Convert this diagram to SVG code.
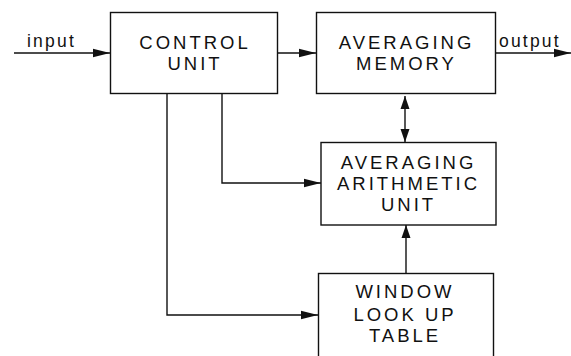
<svg xmlns="http://www.w3.org/2000/svg" width="571" height="356" viewBox="0 0 571 356">
<style>
.box{fill:#fff;stroke:#111;stroke-width:1.4}
.lbl{font-family:"Liberation Sans",Arial,sans-serif;font-size:18.5px;letter-spacing:3px;fill:#111;text-anchor:middle}
.io{font-family:"Liberation Sans",Arial,sans-serif;font-size:17.5px;letter-spacing:2.2px;fill:#111}
.ln{fill:none;stroke:#111;stroke-width:1.4}
</style>
<defs>
<marker id="ah" markerUnits="userSpaceOnUse" markerWidth="18" markerHeight="10" refX="17" refY="5" orient="auto-start-reverse">
<path d="M0,0.8 L17,5 L0,9.2 z" fill="#111"/>
</marker>
<marker id="av" markerUnits="userSpaceOnUse" markerWidth="14" markerHeight="10" refX="13" refY="5" orient="auto-start-reverse">
<path d="M0,0.5 L13,5 L0,9.5 z" fill="#111"/>
</marker>
</defs>
<rect width="571" height="356" fill="#fff"/>
<g id="connectors">
<line class="ln" x1="14" y1="53" x2="110" y2="53" marker-end="url(#ah)"/>
<line class="ln" x1="277" y1="53" x2="316" y2="53" marker-end="url(#ah)"/>
<line class="ln" x1="496" y1="53" x2="571" y2="53" marker-end="url(#ah)"/>
<line class="ln" x1="405" y1="96" x2="405" y2="142" marker-start="url(#av)" marker-end="url(#av)"/>
<polyline class="ln" points="222,94 222,183 321,183" marker-end="url(#ah)"/>
<polyline class="ln" points="167,94 167,315 318,315" marker-end="url(#ah)"/>
<line class="ln" x1="406" y1="273" x2="406" y2="225" marker-end="url(#av)"/>
<text class="io" x="27" y="47">input</text>
<text class="io" x="499" y="47">output</text>
</g>
<g id="control">
<rect class="box" x="110.5" y="12.5" width="167" height="81"/>
<text class="lbl" x="195" y="48.5">CONTROL</text>
<text class="lbl" x="195" y="70">UNIT</text>
</g>
<g id="memory">
<rect class="box" x="316.5" y="12.5" width="179" height="81"/>
<text class="lbl" x="406.5" y="48.5">AVERAGING</text>
<text class="lbl" x="406.5" y="70">MEMORY</text>
</g>
<g id="arithmetic">
<rect class="box" x="321" y="142.5" width="175" height="82.5"/>
<text class="lbl" x="408.5" y="168.5">AVERAGING</text>
<text class="lbl" x="408.5" y="189.5">ARITHMETIC</text>
<text class="lbl" x="408.5" y="210.5">UNIT</text>
</g>
<g id="window">
<rect class="box" x="318.5" y="273.5" width="175" height="100"/>
<text class="lbl" x="405" y="298">WINDOW</text>
<text class="lbl" x="405" y="321">LOOK UP</text>
<text class="lbl" x="405" y="342">TABLE</text>
</g>
</svg>
